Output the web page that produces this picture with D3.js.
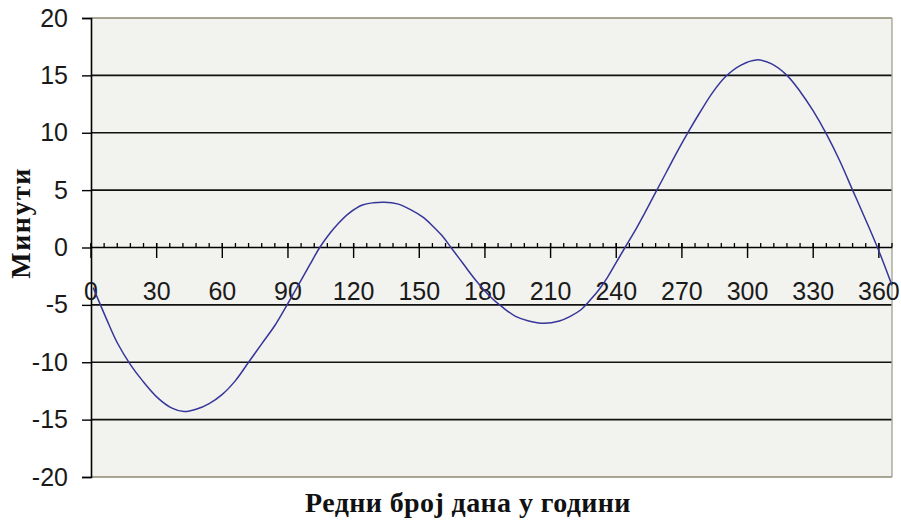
<!DOCTYPE html>
<html>
<head>
<meta charset="utf-8">
<script src="https://cdn.jsdelivr.net/npm/d3@7"></script>
<style>
  html, body { margin: 0; padding: 0; background: #ffffff; }
  svg { display: block; }
</style>
</head>
<body>
<svg id="chart" width="901" height="521"></svg>
<script>
// Equation of time over the year (minutes), sampled by day number
const days = [1, 7, 12, 18, 23.5, 30.5, 37, 42.5, 48, 54, 60, 66, 72, 78, 84, 89, 95, 100, 104.5, 109,
  113, 118, 124, 129, 134, 140, 146, 152, 157, 161, 164.5, 170, 176, 182, 188, 194, 200, 207, 214, 219,
  224, 228, 232, 236, 240, 244, 249, 253, 258, 263, 268, 273, 278, 284, 290, 297, 304, 311, 318, 324,
  330, 336, 342, 348, 354, 360, 366];
const minutes = [-3.5, -6.2, -8.3, -10.2, -11.6, -13.1, -14.0, -14.3, -14.1, -13.6, -12.8, -11.6, -10.0, -8.4, -6.8, -5.2, -3.2, -1.5, 0, 1.2,
  2.1, 3.0, 3.7, 3.9, 3.95, 3.8, 3.3, 2.6, 1.7, 0.9, 0, -1.4, -2.9, -4.2, -5.2, -6.0, -6.4, -6.6, -6.4, -6.0,
  -5.4, -4.6, -3.7, -2.6, -1.3, 0, 1.6, 3.0, 4.8, 6.6, 8.4, 10.1, 11.7, 13.5, 14.9, 15.9, 16.35, 16.0, 15.0, 13.6,
  11.9, 9.9, 7.6, 5.0, 2.4, -0.3, -3.3];

const xMajorTicks = [0, 30, 60, 90, 120, 150, 180, 210, 240, 270, 300, 330, 360];
const yTicks = [-20, -15, -10, -5, 0, 5, 10, 15, 20];
const xTitle = "Редни број дана у години";
const yTitle = "Минути";

const svg = d3.select("#chart");
const plotLeft = 91, plotRight = 892, plotTop = 18, plotBottom = 477;

const x = d3.scaleLinear().domain([0, 366]).range([plotLeft, plotRight]);
const y = d3.scaleLinear().domain([-20, 20]).range([plotBottom, plotTop]);

// plot area
svg.append("rect")
  .attr("x", plotLeft).attr("y", plotTop)
  .attr("width", plotRight - plotLeft).attr("height", plotBottom - plotTop)
  .attr("fill", "#f2f2ee");

// horizontal gridlines
svg.append("g").selectAll("line")
  .data(yTicks.filter(v => v !== 0 && Math.abs(v) !== 20))
  .join("line")
  .attr("x1", plotLeft).attr("x2", plotRight)
  .attr("y1", d => y(d)).attr("y2", d => y(d))
  .attr("stroke", "#111").attr("stroke-width", 1.7);

// frame top / bottom / right
svg.append("g").selectAll("line")
  .data([20, -20])
  .join("line")
  .attr("x1", plotLeft).attr("x2", plotRight)
  .attr("y1", d => y(d)).attr("y2", d => y(d))
  .attr("stroke", "#8c8a72").attr("stroke-width", 1.6);
svg.append("line")
  .attr("x1", plotRight).attr("x2", plotRight)
  .attr("y1", plotTop).attr("y2", plotBottom)
  .attr("stroke", "#a8a799").attr("stroke-width", 1.4);

// y axis
const yAxis = d3.axisLeft(y).tickValues(yTicks).tickSize(9).tickPadding(14)
  .tickFormat(d3.format("d"));
const gy = svg.append("g").attr("transform", `translate(${plotLeft},0)`).call(yAxis);
gy.select(".domain").attr("stroke", "#000").attr("stroke-width", 1.6);
gy.selectAll(".tick line").attr("stroke", "#000").attr("stroke-width", 1.4);
gy.selectAll(".tick text")
  .attr("font-family", "'Liberation Sans', Arial, sans-serif")
  .attr("font-size", 25).attr("fill", "#1a1a1a")
  .text(d => d < 0 ? "-" + Math.abs(d) : d);

// x axis on the zero line: minor ticks above, major ticks crossing
const y0 = y(0);
const minorTicks = d3.range(0, 367, 6);
svg.append("line")
  .attr("x1", plotLeft).attr("x2", plotRight)
  .attr("y1", y0).attr("y2", y0)
  .attr("stroke", "#000").attr("stroke-width", 1.6);
svg.append("g").selectAll("line")
  .data(minorTicks)
  .join("line")
  .attr("x1", d => x(d)).attr("x2", d => x(d))
  .attr("y1", y0 - 4.5).attr("y2", y0)
  .attr("stroke", "#000").attr("stroke-width", 1.3);
svg.append("g").selectAll("line")
  .data(xMajorTicks)
  .join("line")
  .attr("x1", d => x(d)).attr("x2", d => x(d))
  .attr("y1", y0 - 4.5).attr("y2", y0 + 10.5)
  .attr("stroke", "#000").attr("stroke-width", 1.4);
svg.append("g").selectAll("text")
  .data(xMajorTicks)
  .join("text")
  .attr("x", d => x(d)).attr("y", 300)
  .attr("text-anchor", "middle")
  .attr("font-family", "'Liberation Sans', Arial, sans-serif")
  .attr("font-size", 25).attr("fill", "#1a1a1a")
  .text(d => d);

// curve
const line = d3.line()
  .x((d, i) => x(days[i]))
  .y(d => y(d))
  .curve(d3.curveCatmullRom.alpha(0.5));
svg.append("path")
  .datum(minutes)
  .attr("d", line)
  .attr("fill", "none")
  .attr("stroke", "#36369a")
  .attr("stroke-width", 1.5);

// titles
svg.append("text")
  .attr("x", 468).attr("y", 512)
  .attr("text-anchor", "middle")
  .attr("font-family", "'Liberation Serif', 'Times New Roman', serif")
  .attr("font-weight", "bold").attr("font-size", 28).attr("letter-spacing", 0.4)
  .attr("fill", "#111")
  .text(xTitle);
svg.append("text")
  .attr("transform", "translate(30,223) rotate(-90)")
  .attr("text-anchor", "middle")
  .attr("font-family", "'Liberation Serif', 'Times New Roman', serif")
  .attr("font-weight", "bold").attr("font-size", 28).attr("letter-spacing", 1.5)
  .attr("fill", "#111")
  .text(yTitle);
</script>
</body>
</html>
